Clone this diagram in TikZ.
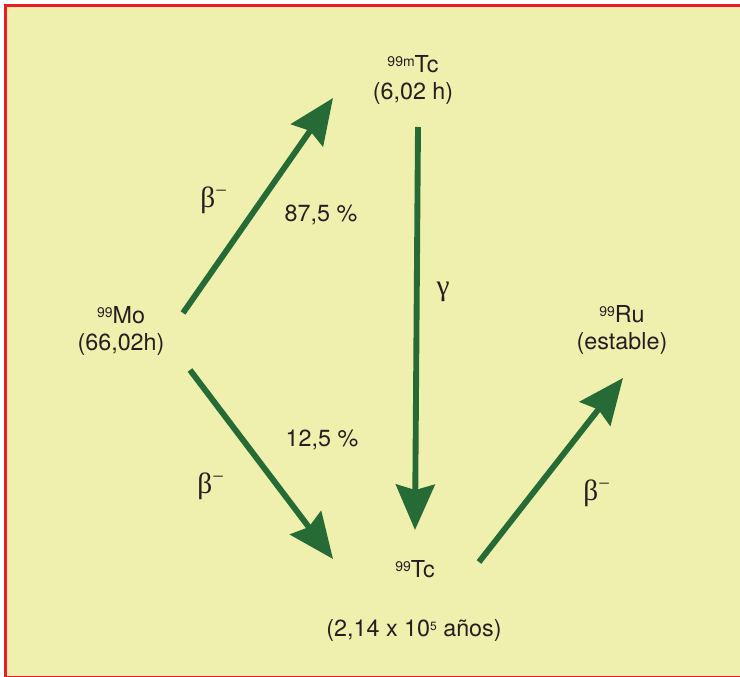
\documentclass[tikz,border=0pt]{standalone}
\usepackage{fontspec}
\setmainfont{TeX Gyre Heros}
\newfontfamily\greekfont{Liberation Serif}
\usetikzlibrary{arrows.meta}
\definecolor{paleyellow}{RGB}{240,240,174}
\definecolor{framered}{RGB}{237,28,36}
\definecolor{decaygreen}{RGB}{38,107,54}
\definecolor{inkgray}{RGB}{35,31,32}
\newcommand{\massno}[1]{\raisebox{5pt}{\fontsize{10.5}{10.5}\selectfont #1}}
\newcommand{\powno}[1]{\raisebox{4.5pt}{\fontsize{9}{9}\selectfont #1}}

\begin{document}
\begin{tikzpicture}[x=0.75pt, y=-0.75pt,
    nuclide/.style={align=center, text=inkgray, inner sep=0pt, font=\fontsize{17.5}{20}\selectfont},
    note/.style={nuclide},
    particle/.style={text=inkgray, inner sep=0pt, font=\greekfont\fontsize{22}{24}\selectfont},
    decay/.style={draw=decaygreen, line width=4.4pt, -{Stealth[length=34pt, width=29pt, inset=4pt]}}
]
    % frame, open on the right
    \useasboundingbox (0,0) rectangle (740,677);
    \begin{scope}
        \clip (0,0) rectangle (740,677);
        \fill[paleyellow] (5.5,5.5) rectangle (760,677.5);
        \draw[framered, line width=2.3pt] (760,5.5) -- (5.5,5.5) -- (5.5,677.5) -- (760,677.5);
    \end{scope}

    % nuclides
    \node[nuclide] (mo) at (121,331) {\massno{99}Mo\\(66,02h)};
    \node[nuclide] (tcm) at (413,80) {\massno{99m}Tc\\(6,02 h)};
    \node[nuclide] (ru) at (622,330) {\massno{99}Ru\\(estable)};
    \node[nuclide, anchor=base] (tc) at (415,578) {\massno{99}Tc};
    \node[nuclide, anchor=base] (tclife) at (414,636) {(2,14 x 10\powno{5} años)};

    % arrow ends
    \coordinate (moup) at (183,313);
    \coordinate (tcmin) at (333,98);
    \coordinate (tcmout) at (418,127);
    \coordinate (tcin) at (415,530);
    \coordinate (modown) at (190,370);
    \coordinate (tcleft) at (333,559);
    \coordinate (tcout) at (479,562);
    \coordinate (ruin) at (623,378);

    \draw[decay] (moup) -- (tcmin);
    \draw[decay] (tcmout) -- (tcin);
    \draw[decay] (modown) -- (tcleft);
    \draw[decay] (tcout) -- (ruin);

    % labels
    \node[particle] (beta1) at (214,200) {β\textsuperscript{\char"2212}};
    \node[particle] (beta2) at (211,486) {β\textsuperscript{\char"2212}};
    \node[particle] (beta3) at (597,493) {β\textsuperscript{\char"2212}};
    \node[particle] (gamma) at (443,292) {γ};
    \node[note] (pcup) at (321,215) {87,5 \%};
    \node[note] (pcdown) at (322,440) {12,5 \%};
\end{tikzpicture}
\end{document}
